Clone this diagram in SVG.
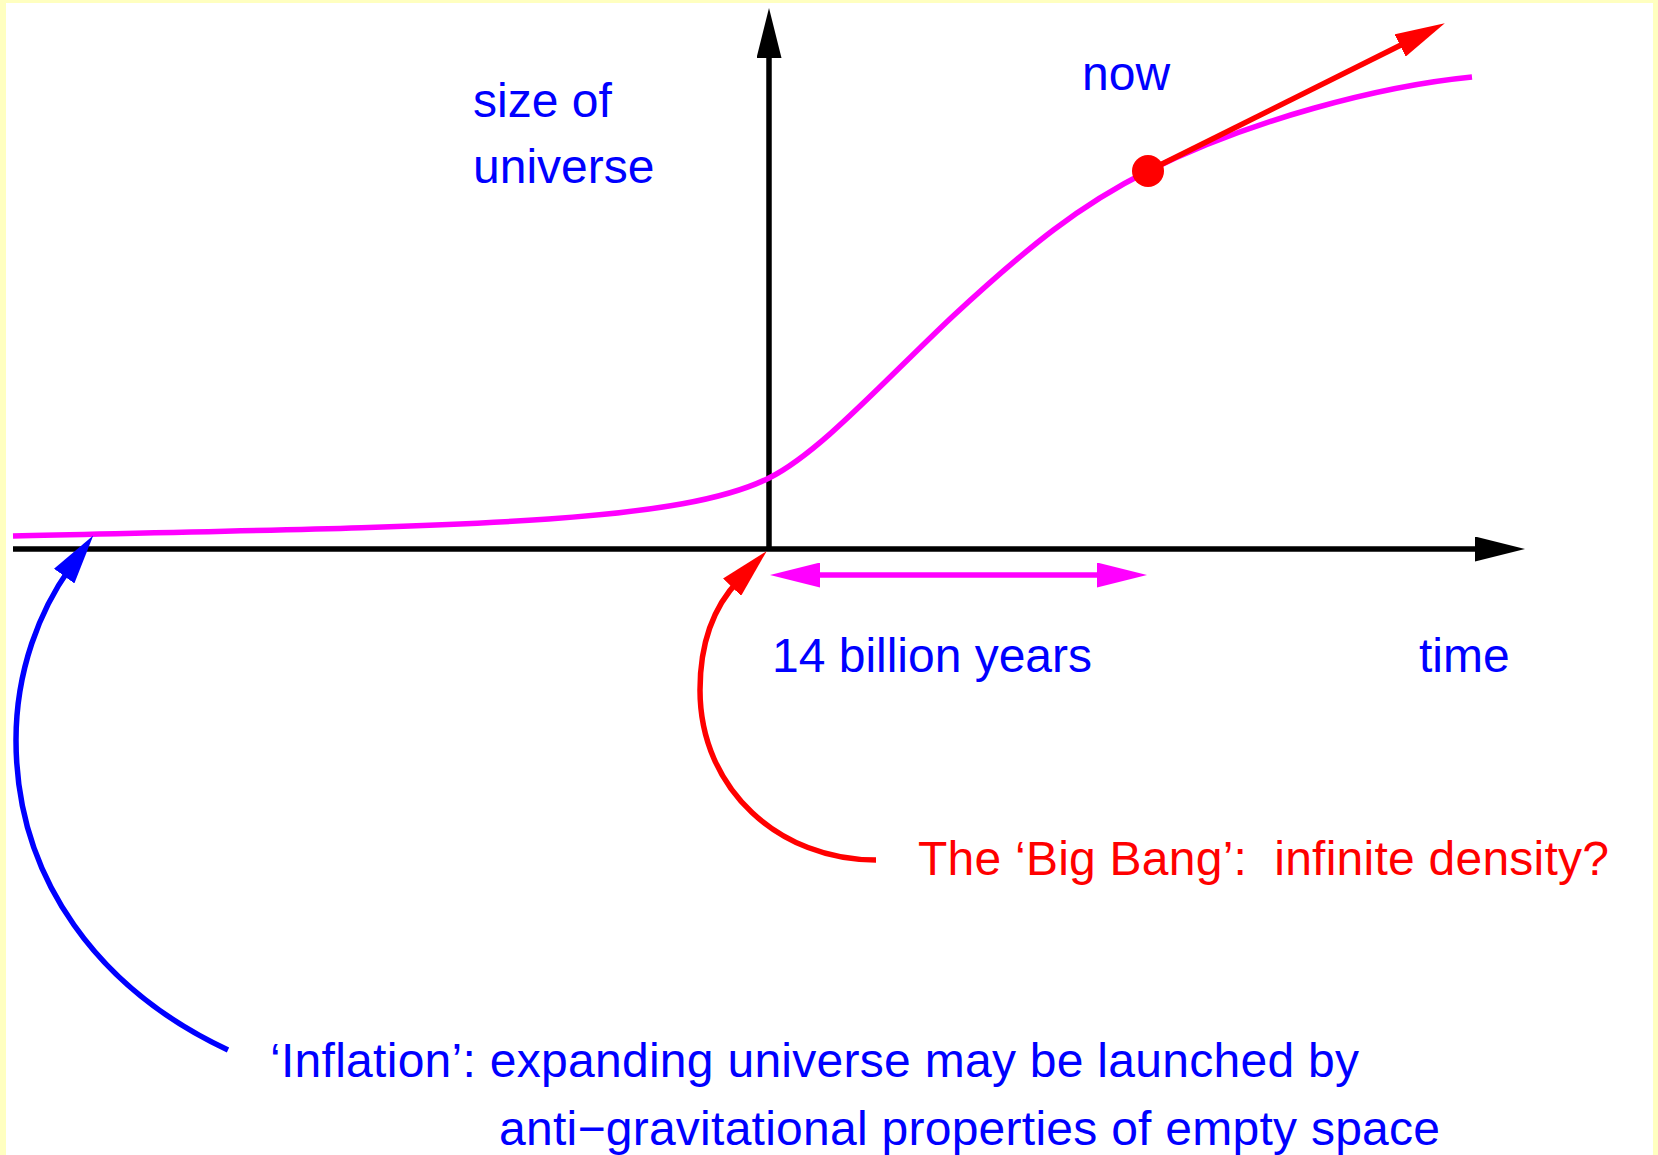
<svg xmlns="http://www.w3.org/2000/svg" width="1658" height="1155" viewBox="0 0 1658 1155">
  <style>
    .t { font-family: "Liberation Sans", Arial, sans-serif; font-size: 48px; }
    .blue { fill: #0000ff; }
    .red { fill: #ff0000; }
    .axis { fill: none; stroke: #000000; stroke-width: 5.5; }
    .mag { fill: none; stroke: #ff00ff; stroke-width: 5.5; }
    .redl { fill: none; stroke: #ff0000; stroke-width: 5.5; }
    .bluel { fill: none; stroke: #0000ff; stroke-width: 5.5; }
  </style>
  <defs>
    <marker id="ahK" viewBox="0 0 50 25" markerWidth="50" markerHeight="25" refX="10" refY="12.5" orient="auto-start-reverse" markerUnits="userSpaceOnUse">
      <path d="M0,0 L50,12.5 L0,25 Z" fill="#000000"/>
    </marker>
    <marker id="ahM" viewBox="0 0 50 25" markerWidth="50" markerHeight="25" refX="10" refY="12.5" orient="auto-start-reverse" markerUnits="userSpaceOnUse">
      <path d="M0,0 L50,12.5 L0,25 Z" fill="#ff00ff"/>
    </marker>
    <marker id="ahR" viewBox="0 0 50 25" markerWidth="50" markerHeight="25" refX="10" refY="12.5" orient="auto-start-reverse" markerUnits="userSpaceOnUse">
      <path d="M0,0 L50,12.5 L0,25 Z" fill="#ff0000"/>
    </marker>
    <marker id="ahB" viewBox="0 0 50 25" markerWidth="50" markerHeight="25" refX="10" refY="12.5" orient="auto-start-reverse" markerUnits="userSpaceOnUse">
      <path d="M0,0 L50,12.5 L0,25 Z" fill="#0000ff"/>
    </marker>
  </defs>
  <rect x="0" y="0" width="1658" height="1155" fill="#ffffc0"/>
  <rect x="6" y="3" width="1647" height="1152" fill="#ffffff"/>

  <g id="connectors">
    <path id="x-axis" class="axis" d="M13,549 L1485,549" marker-end="url(#ahK)"/>
    <path id="y-axis" class="axis" d="M769,549 L769,48" marker-end="url(#ahK)"/>
    <path id="size-curve" class="mag" d="M13,536 C450,526 675,525 769,478 C819,453 880,385 952,317 C1030,245 1080,205 1148,171 C1250,120 1380,86 1472,77"/>
    <path id="span-arrow" class="mag" d="M810,575 L1107,575" marker-start="url(#ahM)" marker-end="url(#ahM)"/>
    <path id="now-tangent" class="redl" d="M1148,171 L1409,41" marker-end="url(#ahR)"/>
    <path id="bigbang-pointer" class="redl" d="M876,860 C780,860 700,790 700,690 C700,640 715,605 739,580" marker-end="url(#ahR)"/>
    <path id="inflation-pointer" class="bluel" d="M228,1050 C100,990 16,880 16,740 C16,670 40,610 70,568" marker-end="url(#ahB)"/>
  </g>

  <g id="now-point">
    <circle cx="1148" cy="171" r="16" fill="#ff0000"/>
  </g>

  <g id="label-size">
    <text class="t blue" x="473" y="117">size of</text>
    <text class="t blue" x="473" y="183">universe</text>
  </g>
  <g id="label-now">
    <text class="t blue" x="1082" y="90">now</text>
  </g>
  <g id="label-span">
    <text class="t blue" x="772" y="672" textLength="320" lengthAdjust="spacing">14 billion years</text>
  </g>
  <g id="label-time">
    <text class="t blue" x="1419" y="672">time</text>
  </g>
  <g id="label-bigbang">
    <text class="t red" x="918" y="875" xml:space="preserve" textLength="691" lengthAdjust="spacing">The ‘Big Bang’:  infinite density?</text>
  </g>
  <g id="label-inflation">
    <text class="t blue" x="270" y="1077" textLength="1089" lengthAdjust="spacing">‘Inflation’: expanding universe may be launched by</text>
    <text class="t blue" x="499" y="1145" textLength="941" lengthAdjust="spacing">anti−gravitational properties of empty space</text>
  </g>
</svg>
